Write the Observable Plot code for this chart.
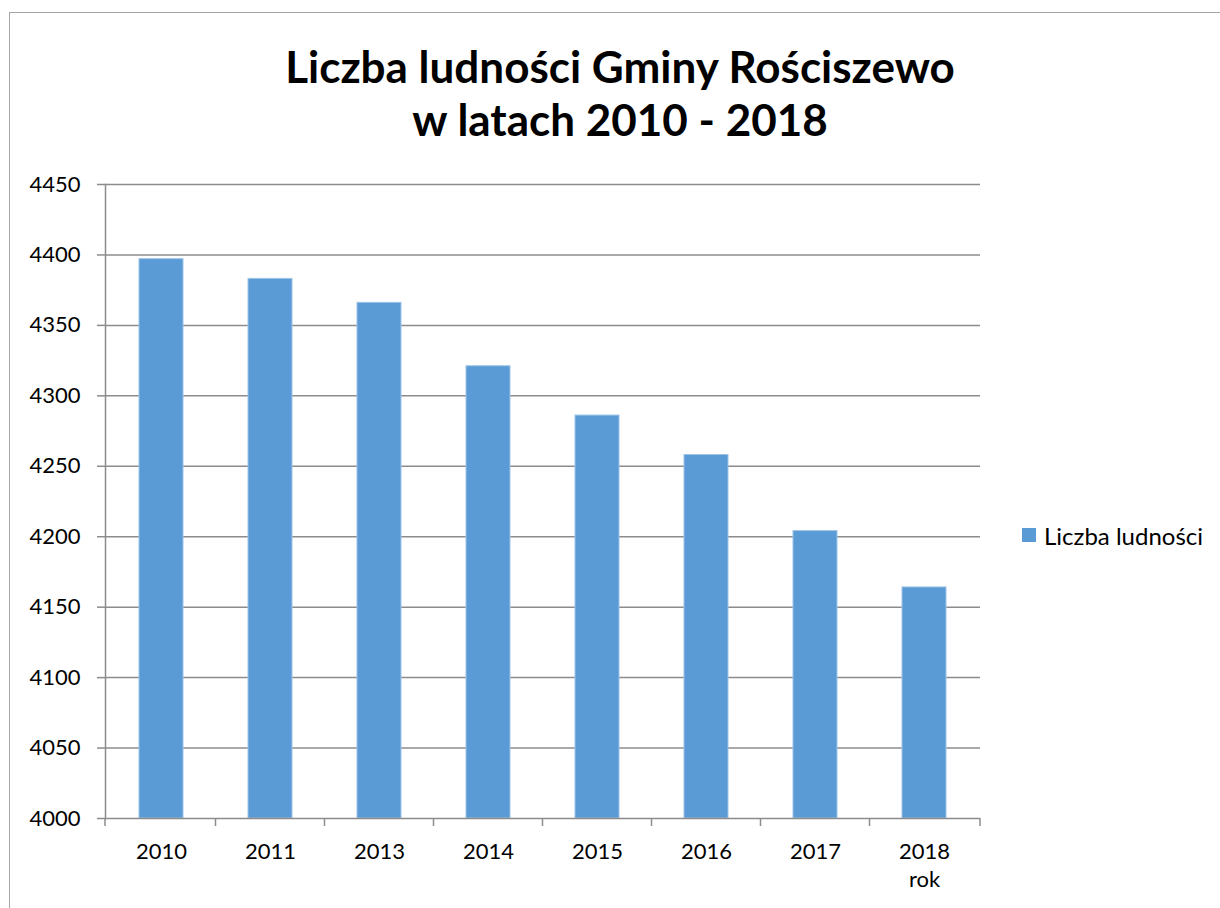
<!DOCTYPE html>
<html>
<head>
<meta charset="utf-8">
<script src="https://cdn.jsdelivr.net/npm/d3@7"></script>
<script src="https://cdn.jsdelivr.net/npm/@observablehq/plot@0.6"></script>
<style>
  html, body { margin: 0; padding: 0; background: #fff; }
  #wrap { position: relative; width: 1220px; height: 908px; overflow: hidden; font-family: Lato, sans-serif; }
  #border { position: absolute; left: 9px; top: 12px; width: 1300px; height: 1000px; border-left: 1.5px solid #a6a6a6; border-top: 1.5px solid #a6a6a6; }
  #title { position: absolute; left: 0; top: 40px; width: 1240px; text-align: center; font-weight: 700; font-size: 44px; line-height: 53px; color: #000; }
  #chart { position: absolute; left: 0; top: 0; }
  #legend { position: absolute; left: 1022px; top: 520px; height: 30px; display: flex; align-items: center; font-size: 24px; color: #000; }
  #legend .sw { width: 14px; height: 14px; background: #5b9bd5; margin-right: 8px; }
</style>
</head>
<body>
<div id="wrap">
  <div id="border"></div>
  <div id="chart"></div>
  <div id="title"></div>
  <div id="legend"></div>
</div>
<script>
const titleLines = ["Liczba ludności Gminy Rościszewo", "w latach 2010 - 2018"];
const years = ["2010", "2011", "2013", "2014", "2015", "2016", "2017", "2018"];
const population = [4397, 4383, 4366, 4321, 4286, 4258, 4204, 4164];
const yTicks = [4000, 4050, 4100, 4150, 4200, 4250, 4300, 4350, 4400, 4450];
const seriesName = "Liczba ludności";
const xAxisTitle = "rok";

const data = years.map((y, i) => ({year: y, value: population[i]}));

document.getElementById("title").innerHTML = titleLines.map(t => `<div>${t}</div>`).join("");
document.getElementById("legend").innerHTML = `<div class="sw"></div><div>${seriesName}</div>`;

const gridColor = "#8c8c8c";

function bandTicks(index, scales, values, dimensions) {
  const x = scales.x;
  const bw = x.bandwidth ? x.bandwidth() : (scales.scales && scales.scales.x.bandwidth) || 0;
  const left = dimensions.marginLeft;
  const right = dimensions.width - dimensions.marginRight;
  const bottom = dimensions.height - dimensions.marginBottom;
  const bounds = [left];
  for (let i = 0; i < years.length - 1; i++) {
    bounds.push((x(years[i]) + x(years[i + 1])) / 2 + bw / 2);
  }
  bounds.push(right);
  const g = d3.create("svg:g").attr("stroke", gridColor).attr("stroke-width", 1.5);
  g.selectAll("line").data(bounds).join("line")
    .attr("x1", d => d).attr("x2", d => d)
    .attr("y1", bottom).attr("y2", bottom + 8);
  return g.node();
}

const chart = Plot.plot({
  width: 1220,
  height: 908,
  marginTop: 184,
  marginBottom: 90,
  marginLeft: 105,
  marginRight: 240,
  style: {fontFamily: "Lato, sans-serif", fontSize: "22px", color: "#000", background: "transparent"},
  x: {domain: years, paddingInner: 0.6, paddingOuter: 0.3, axis: null},
  y: {domain: [4000, 4450], axis: null},
  marks: [
    Plot.ruleY(yTicks.slice(1), {stroke: gridColor, strokeWidth: 1.5}),
    Plot.barY(data, {x: "year", y1: 4000, y2: "value", fill: "#5b9bd5", stroke: "#9dc3e6", strokeWidth: 1}),
    Plot.ruleY([4000], {stroke: gridColor, strokeWidth: 1.5}),
    Plot.frame({anchor: "left", stroke: gridColor, strokeWidth: 1.5}),
    Plot.axisY({ticks: yTicks, tickSize: 8, tickPadding: 17, stroke: gridColor, strokeWidth: 1.5, fill: "#000", fontSize: 22, label: null, tickFormat: d => String(d)}),
    Plot.axisX({tickSize: 0, tickPadding: 25, fill: "#000", fontSize: 22, label: null}),
    bandTicks,
    Plot.text([xAxisTitle], {x: () => years[years.length - 1], text: d => d, frameAnchor: "bottom", dy: 68, fontSize: 22, fill: "#000"})
  ]
});
document.getElementById("chart").appendChild(chart);
</script>
</body>
</html>
